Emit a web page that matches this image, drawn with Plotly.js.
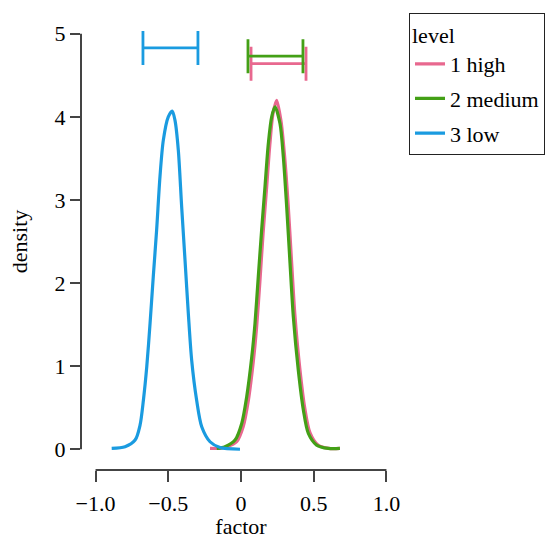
<!DOCTYPE html>
<html><head><meta charset="utf-8">
<script src="https://cdn.plot.ly/plotly-3.0.1.min.js"></script>
<style>html,body{margin:0;padding:0;background:#fff}#chart{width:551px;height:539px}</style>
</head><body><div id="chart"></div>
<script>
const levels = ['1 high', '2 medium', '3 low'];
const colors = ['#E8688F', '#43A016', '#1A9BE0'];

const highX = [-0.213, -0.150, -0.095, -0.030, 0.015, 0.050, 0.085, 0.107, 0.130, 0.152, 0.175, 0.198, 0.220, 0.245, 0.275, 0.300, 0.324, 0.347, 0.370, 0.404, 0.439, 0.474, 0.530, 0.605, 0.680];
const highY = [0.01, 0.01, 0.03, 0.09, 0.27, 0.58, 1.06, 1.46, 2.02, 2.60, 3.12, 3.66, 4.04, 4.20, 3.95, 3.52, 2.95, 2.28, 1.63, 0.98, 0.49, 0.20, 0.05, 0.01, 0.01];

const mediumX = [-0.167, -0.110, -0.041, 0.005, 0.039, 0.074, 0.096, 0.119, 0.142, 0.165, 0.188, 0.211, 0.234, 0.268, 0.291, 0.314, 0.337, 0.360, 0.394, 0.429, 0.463, 0.520, 0.600, 0.680];
const mediumY = [0.01, 0.03, 0.11, 0.31, 0.63, 1.11, 1.51, 2.08, 2.64, 3.16, 3.68, 4.00, 4.12, 3.92, 3.52, 2.92, 2.24, 1.59, 0.95, 0.47, 0.19, 0.05, 0.01, 0.01];

const lowX = [-0.889, -0.797, -0.728, -0.694, -0.671, -0.648, -0.625, -0.603, -0.580, -0.557, -0.534, -0.500, -0.473, -0.454, -0.431, -0.408, -0.385, -0.362, -0.339, -0.305, -0.270, -0.213, -0.144, -0.007];
const lowY = [0.01, 0.03, 0.11, 0.29, 0.59, 0.99, 1.52, 2.08, 2.64, 3.28, 3.72, 4.00, 4.07, 3.96, 3.60, 2.92, 2.28, 1.63, 1.07, 0.59, 0.27, 0.09, 0.02, 0.00];

const intervalLow = [0.069, 0.048, -0.674];
const intervalHigh = [0.447, 0.426, -0.296];
const intervalY = [4.64, 4.73, 4.83];

const xTickVals = [-1, -0.5, 0, 0.5, 1];
const xTickText = ['\u22121.0', '\u22120.5', '0', '0.5', '1.0'];
const yTickVals = [0, 1, 2, 3, 4, 5];

const xRange = [-1.1, 1.1];
const yRange = [-0.25, 5.25];

const curves = [[highX, highY], [mediumX, mediumY], [lowX, lowY]];
const font = 'Liberation Serif, Times New Roman, serif';

const traces = [];
curves.forEach((c, i) => {
  traces.push({
    type: 'scatter', mode: 'lines', x: c[0], y: c[1], name: levels[i],
    legendgroup: levels[i],
    line: {color: colors[i], width: 3.2, shape: 'spline', smoothing: 0.8},
    hoverinfo: 'skip'
  });
});
levels.forEach((lv, i) => {
  const mid = (intervalLow[i] + intervalHigh[i]) / 2;
  traces.push({
    type: 'scatter', mode: 'markers', x: [mid], y: [intervalY[i]],
    legendgroup: lv, showlegend: false,
    marker: {size: 1, opacity: 0, color: colors[i]},
    error_x: {type: 'data', symmetric: false,
      array: [intervalHigh[i] - mid], arrayminus: [mid - intervalLow[i]],
      color: colors[i], thickness: 2.8, width: 17},
    hoverinfo: 'skip'
  });
});

function px(v) { return (v - xRange[0]) / (xRange[1] - xRange[0]); }
function py(v) { return (v - yRange[0]) / (yRange[1] - yRange[0]); }

const axisColor = '#444';
const layout = {
  width: 551, height: 539,
  margin: {l: 81, r: 150, t: 13, b: 69, autoexpand: false},
  paper_bgcolor: '#fff', plot_bgcolor: '#fff',
  font: {family: font, size: 22, color: '#000'},
  showlegend: true,
  xaxis: {
    range: xRange, showgrid: false, zeroline: false, showline: false,
    tickvals: xTickVals, ticktext: xTickText,
    ticks: 'outside', ticklen: 11, tickwidth: 2, tickcolor: axisColor,
    ticklabelstandoff: 3,
    tickfont: {family: font, size: 22, color: '#000'},
    title: {text: 'factor', font: {family: font, size: 22, color: '#000'}}
  },
  yaxis: {
    range: yRange, showgrid: false, zeroline: false, showline: false,
    tickvals: yTickVals,
    ticks: 'outside', ticklen: 10, tickwidth: 2, tickcolor: axisColor,
    tickfont: {family: font, size: 22, color: '#000'},
    title: {text: 'density', font: {family: font, size: 22, color: '#000'}}
  },
  shapes: [
    {type: 'line', xref: 'paper', yref: 'paper', x0: px(-1), x1: px(1), y0: 0, y1: 0,
     line: {color: axisColor, width: 2}},
    {type: 'line', xref: 'paper', yref: 'paper', x0: 0, x1: 0, y0: py(0), y1: py(5),
     line: {color: axisColor, width: 2}}
  ],
  legend: {
    x: 1.025, xanchor: 'left', y: 0.999, yanchor: 'top',
    bgcolor: '#fff', bordercolor: '#222', borderwidth: 1,
    tracegroupgap: 3,
    title: {text: 'level', font: {family: font, size: 22, color: '#000'}},
    font: {family: font, size: 22, color: '#000'}
  }
};

Plotly.newPlot('chart', traces, layout, {staticPlot: true, displayModeBar: false});
</script>
</body></html>
